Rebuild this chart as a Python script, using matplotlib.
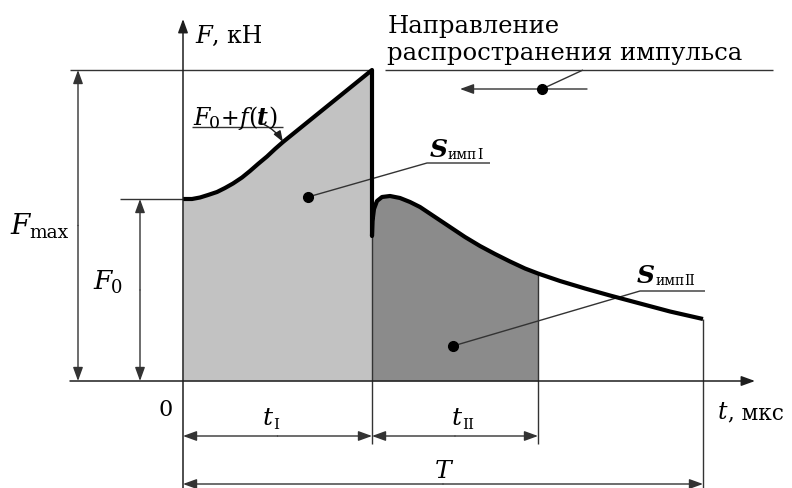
import matplotlib
matplotlib.use("Agg")
import matplotlib.pyplot as plt
from matplotlib.transforms import offset_copy

# Force profile of the pulse: rising front F0 + f(t) with a sharp drop,
# followed by the second (decaying) part. t and F in arbitrary schematic units.
t_front = [0.00, 0.09, 0.17, 0.25, 0.34, 0.42, 0.50, 0.59, 0.67, 0.75, 0.84, 0.92, 1.00, 1.89]
F_front = [1.82, 1.82, 1.835, 1.86, 1.89, 1.93, 1.975, 2.035, 2.10, 2.17, 2.245, 2.32, 2.39, 3.11]
t_tail = [1.89, 1.895, 1.91, 1.94, 1.99, 2.07, 2.17, 2.27, 2.37, 2.52, 2.67, 2.82, 2.97,
          3.12, 3.27, 3.42, 3.55, 3.77, 4.02, 4.27, 4.57, 4.87, 5.20]
F_tail = [1.45, 1.60, 1.72, 1.80, 1.84, 1.85, 1.83, 1.79, 1.74, 1.64, 1.54, 1.44, 1.35,
          1.27, 1.195, 1.125, 1.075, 1.00, 0.925, 0.855, 0.775, 0.695, 0.62]

F0 = 1.82       # initial force level
F_max = 3.11    # peak force
t_I = 1.89      # duration of the first phase
t_II_end = 3.55 # end of the second phase
T = 5.20        # full pulse duration

LIGHT = "#c2c2c2"
DARK = "#8b8b8b"
INK = "#1e1e1e"
THIN = "#333333"
SERIF = "DejaVu Serif"

fig = plt.figure(figsize=(7.92, 4.89), dpi=100)
ax = fig.add_axes([0, 0, 1, 1])
ax.set_xlim(-1.83, 6.09)
ax.set_ylim(-1.07, 3.82)
ax.axis("off")

# shaded impulse areas
ax.fill_between(t_front, 0, F_front, color=LIGHT, lw=0, zorder=1)
n2 = sum(1 for t in t_tail if t <= t_II_end)
ax.fill_between(t_tail[:n2], 0, F_tail[:n2], color=DARK, lw=0, zorder=1)

# pulse curve
ax.plot(t_front + t_tail, F_front + F_tail, color="black", lw=3.0,
        solid_joinstyle="round", solid_capstyle="butt", zorder=4)

def line(xs, ys, lw=1.0, color=THIN, z=3):
    ax.plot(xs, ys, color=color, lw=lw, zorder=z, solid_capstyle="butt")

def arrow(x0, y0, x1, y1, style="-|>", lw=1.0, color=THIN):
    ax.annotate("", xy=(x1, y1), xytext=(x0, y0),
                arrowprops=dict(arrowstyle=style + ",head_length=0.55,head_width=0.2",
                                mutation_scale=15, lw=lw, color=color,
                                shrinkA=0, shrinkB=0), zorder=5)

# coordinate axes
arrow(0, -1.07, 0, 3.62, lw=1.1, color=INK)
arrow(-1.13, 0, 5.72, 0, lw=1.1, color=INK)

# extension lines
line([-1.13, t_I], [F_max, F_max])
line([-0.63, 0], [F0, F0])
line([t_I, t_I], [F_max, -0.63])
line([t_II_end, t_II_end], [F_tail[n2 - 1], -0.63])
line([T, T], [F_tail[-1], -1.07])

# dimension arrows
arrow(-1.05, F_max / 2, -1.05, F_max)
arrow(-1.05, F_max / 2, -1.05, 0)
arrow(-0.43, F0 / 2, -0.43, F0)
arrow(-0.43, F0 / 2, -0.43, 0)
arrow(t_I / 2, -0.55, 0, -0.55)
arrow(t_I / 2, -0.55, t_I, -0.55)
arrow((t_I + t_II_end) / 2, -0.55, t_I, -0.55)
arrow((t_I + t_II_end) / 2, -0.55, t_II_end, -0.55)
arrow(T / 2, -1.03, 0, -1.03)
arrow(T / 2, -1.03, T, -1.03)

renderer = fig.canvas.get_renderer()

def chain(x, y, pieces):
    """Draw consecutive text pieces on a shared baseline starting at (x, y)."""
    dx = 0.0
    for s, size, style, weight, dy in pieces:
        tr = offset_copy(ax.transData, fig=fig, x=dx, y=dy, units="dots")
        txt = ax.text(x, y, s, transform=tr, ha="left", va="baseline",
                      family=SERIF, fontsize=size, style=style, weight=weight,
                      color="black", zorder=6)
        dx += txt.get_window_extent(renderer).width

N, I, B = "normal", "italic", "bold"

chain(0.12, 3.39, [("F", 17.5, I, N, 0), (", кН", 17, N, N, 0)])
chain(5.35, -0.37, [("t", 17, I, N, 0), (", мкс", 15.5, N, N, 0)])
chain(-1.73, 1.48, [("F", 20, I, N, 0), ("max", 13.5, N, N, -4)])
chain(-0.90, 0.93, [("F", 19, I, N, 0), ("0", 13, N, N, -4)])
chain(0.80, -0.43, [("t", 18, I, N, 0), ("I", 11, N, N, -4)])
chain(2.69, -0.43, [("t", 18, I, N, 0), ("II", 11, N, N, -4)])
chain(2.52, -0.96, [("T", 18, I, N, 0)])
ax.text(-0.17, -0.28, "0", family=SERIF, fontsize=16, ha="center", va="center")

# pulse propagation direction
ax.text(2.05, 3.49, "Направление", family=SERIF, fontsize=17.5, ha="left", va="baseline")
ax.text(2.04, 3.22, "распространения импульса", family=SERIF, fontsize=17.5,
        ha="left", va="baseline")
line([2.02, 5.90], [F_max, F_max])
arrow(4.04, 2.92, 2.77, 2.92)
line([3.59, 4.00], [2.92, 3.11])
ax.plot([3.59], [2.92], "o", color="black", ms=7, zorder=6)

# F0 + f(t) callout
chain(0.10, 2.57, [("F", 17, I, N, 0), ("0", 12.5, N, N, -3), ("+", 16, N, N, 0),
                   ("f", 17, I, N, 0), ("(", 17, N, N, 0), ("t", 17, I, B, 0),
                   (")", 17, N, N, 0)])
line([0.09, 1.00], [2.54, 2.54])
ax.annotate("", xy=(1.00, 2.39), xytext=(0.80, 2.57),
            arrowprops=dict(arrowstyle="-|>,head_length=0.5,head_width=0.18",
                            mutation_scale=13, lw=1.0, color=INK,
                            connectionstyle="arc3,rad=-0.15", shrinkA=0, shrinkB=0),
            zorder=6)

# impulse area callouts
chain(2.47, 2.25, [("S", 18, I, B, 0), ("имп", 10, N, N, -2), ("I", 10, N, N, -2)])
line([1.25, 2.44, 3.07], [1.84, 2.18, 2.18])
ax.plot([1.25], [1.84], "o", color="black", ms=7, zorder=6)

chain(4.54, 0.99, [("S", 18, I, B, 0), ("имп", 10, N, N, -2), ("II", 10, N, N, -2)])
line([2.70, 4.57, 5.22], [0.35, 0.90, 0.90])
ax.plot([2.70], [0.35], "o", color="black", ms=7, zorder=6)

fig.savefig("out.png", dpi=100)
